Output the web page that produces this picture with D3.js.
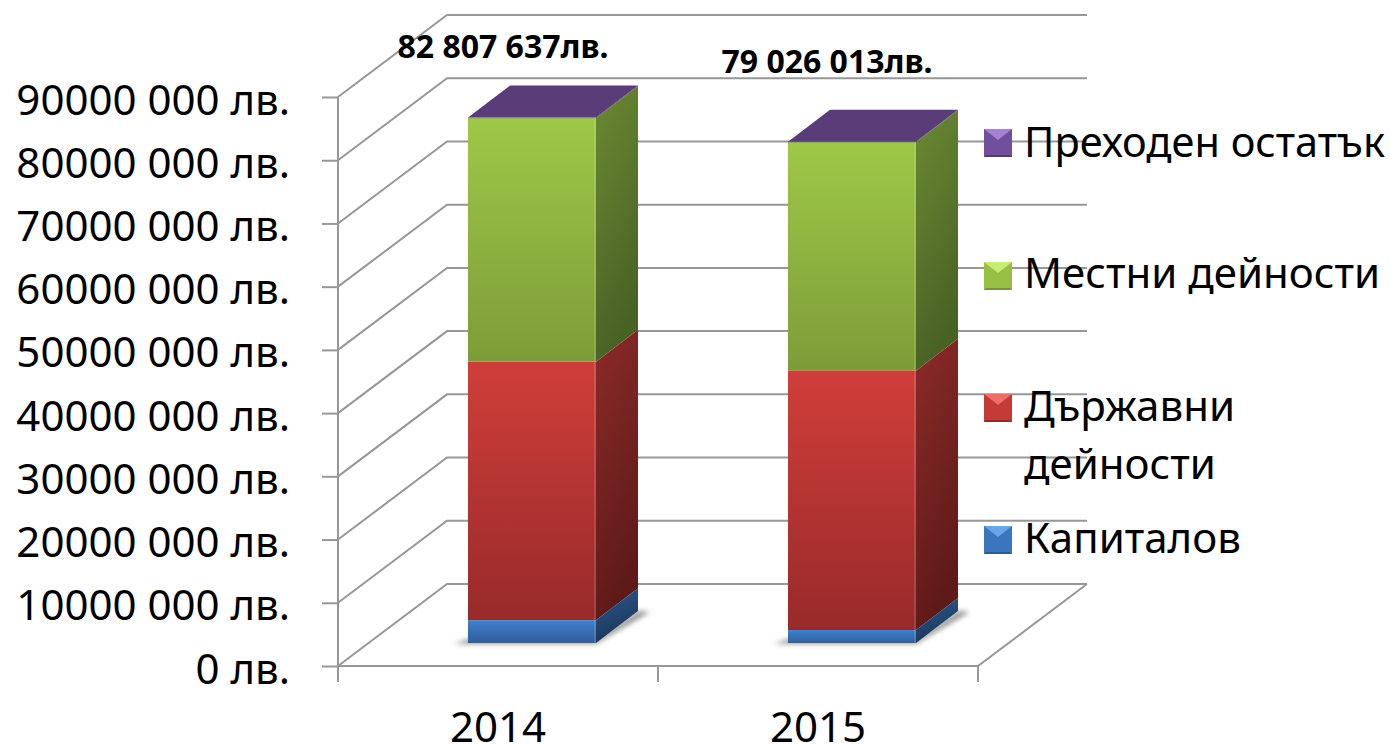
<!DOCTYPE html>
<html>
<head>
<meta charset="utf-8">
<script src="https://d3js.org/d3.v7.min.js"></script>
<style>
html, body { margin: 0; padding: 0; background: #fff; overflow: hidden; }
text { font-family: "Noto Sans", sans-serif; fill: #000; }
</style>
</head>
<body>
<script>
var years = ["2014", "2015"];
var capital = [3600000, 2050000];
var stateActivities = [40900000, 41000000];
var localActivities = [38500000, 36150000];
var carryOver = [100000, 100000];
var totals = ["82 807 637лв.", "79 026 013лв."];
var yTicks = [0, 10000000, 20000000, 30000000, 40000000, 50000000, 60000000, 70000000, 80000000, 90000000];
var yTickLabels = ["0 лв.", "10000 000 лв.", "20000 000 лв.", "30000 000 лв.", "40000 000 лв.", "50000 000 лв.", "60000 000 лв.", "70000 000 лв.", "80000 000 лв.", "90000 000 лв."];

var seriesValues = [capital, stateActivities, localActivities, carryOver];

var colors = [
  {front: ["#4080cc", "#2f5e9c"], side: ["#2a5a92", "#1c3658"], top: "#2a5a92", sw: ["#6aa5ea", "#3a75bd", "#2c5c98"]},
  {front: ["#d03e3a", "#982a2a"], side: ["#8c2b29", "#5e1a18"], top: "#8f2b29", sw: ["#ec6f6a", "#c33a36", "#952a28"]},
  {front: ["#9ec847", "#7d9c38"], side: ["#6b8a33", "#486224"], top: "#6d8f33", sw: ["#c8ec72", "#97bf43", "#75953a"]},
  {front: ["#7850a4", "#5c3d7c"], side: ["#5a3d78", "#4a3064"], top: "#5a3d78", sw: ["#a583d2", "#70509c", "#553a76"]}
];

var width = 1390, height = 745;
var wallDx = 109, wallDy = -82;       // floor depth
var barDx = 42, barDy = -32;          // bar depth
var barOffX = 34, barOffY = -23;      // bar sits inside the floor
var fontSize = 42;
var totalNudge = [[5, -83], [9, -92]];

var svg = d3.select("body").append("svg")
  .attr("width", width)
  .attr("height", height);

var x = d3.scaleBand().domain(years).range([338, 978]).paddingInner(0.6).paddingOuter(0.3);
var y = d3.scaleLinear().domain([0, 90000000]).range([666, 97]);

var defs = svg.append("defs");

function gradient(id, c, x2) {
  var g = defs.append("linearGradient").attr("id", id)
    .attr("x1", 0).attr("y1", 0).attr("x2", x2).attr("y2", 1);
  g.append("stop").attr("offset", "0%").attr("stop-color", c[0]);
  g.append("stop").attr("offset", "100%").attr("stop-color", c[1]);
}
colors.forEach(function(c, i) {
  gradient("front" + i, c.front, 0);
  gradient("side" + i, c.side, 0.3);
});
defs.append("filter").attr("id", "blur")
  .attr("x", "-20%").attr("y", "-50%").attr("width", "140%").attr("height", "200%")
  .append("feGaussianBlur").attr("stdDeviation", 2.5);

// walls and floor
var grid = svg.append("g").attr("stroke", "#979797").attr("stroke-width", 2).attr("fill", "none");
yTicks.forEach(function(t) {
  grid.append("path").attr("d", d3.line()([
    [x.range()[0], y(t)],
    [x.range()[0] + wallDx, y(t) + wallDy],
    [x.range()[1] + wallDx, y(t) + wallDy]
  ]));
});
grid.append("path").attr("d", d3.line()([
  [x.range()[0], y(0)],
  [x.range()[1], y(0)],
  [x.range()[1] + wallDx, y(0) + wallDy]
]));
[0, 1, 2].forEach(function(i) {
  var px = x.range()[0] + i * x.step();
  grid.append("line").attr("x1", px).attr("x2", px).attr("y1", y(0)).attr("y2", y(0) + 16);
});

// y axis
var yAxis = d3.axisLeft(y).tickValues(yTicks).tickSize(16).tickPadding(32)
  .tickFormat(function(d, i) { return yTickLabels[i]; });
var yG = svg.append("g").attr("transform", "translate(338,0)").call(yAxis);
yG.select(".domain").remove();
yG.append("line").attr("y1", y(90000000)).attr("y2", y(0)).attr("stroke", "#979797").attr("stroke-width", 2);
yG.selectAll(".tick line").attr("stroke", "#979797").attr("stroke-width", 2);
yG.selectAll(".tick text").attr("font-size", fontSize).attr("dy", 17).attr("font-family", null).attr("fill", "#000");

// bars
var stacked = years.map(function(yr, i) {
  var base = 0;
  return seriesValues.map(function(s, k) {
    var seg = {year: yr, k: k, y0: base, y1: base + s[i]};
    base = seg.y1;
    return seg;
  });
});

var bars = svg.selectAll(".bar").data(stacked).enter().append("g").attr("class", "bar");

bars.append("path")
  .attr("filter", "url(#blur)")
  .attr("fill", "#9a9a9a")
  .attr("d", function(d) {
    var l = x(d[0].year) + barOffX, b = y(0) + barOffY, r = l + x.bandwidth();
    return d3.line()([[l - 14, b + 1], [r, b + 1], [r + barDx + 12, b + barDy + 1], [r + barDx, b + barDy], [r, b - 4], [l, b - 4]]);
  });

bars.each(function(d) {
  var g = d3.select(this);
  d.forEach(function(s) {
    var l = x(s.year) + barOffX, r = l + x.bandwidth();
    var yb = y(s.y0) + barOffY, yt = y(s.y1) + barOffY;
    g.append("path").attr("fill", "url(#side" + s.k + ")")
      .attr("d", d3.line()([[r, yb], [r + barDx, yb + barDy], [r + barDx, yt + barDy], [r, yt]]) + "Z");
    g.append("rect").attr("x", l).attr("y", yt).attr("width", x.bandwidth()).attr("height", yb - yt)
      .attr("fill", "url(#front" + s.k + ")");
    // soft lit edge where the front meets the side
    g.append("line").attr("x1", r - 1).attr("x2", r - 1).attr("y1", yt).attr("y2", yb)
      .attr("stroke", "#fff").attr("stroke-opacity", 0.12).attr("stroke-width", 2);
  });
  var last = d[d.length - 1];
  var l = x(last.year) + barOffX, r = l + x.bandwidth(), t = y(last.y1) + barOffY;
  g.append("path").attr("fill", colors[last.k].top)
    .attr("d", d3.line()([[l, t], [l + barDx, t + barDy], [r + barDx, t + barDy], [r, t]]) + "Z");
});

// totals above the bars
svg.selectAll(".total").data(years).enter().append("text")
  .attr("class", "total")
  .attr("x", function(d, i) { return x(d) + x.bandwidth() / 2 + totalNudge[i][0]; })
  .attr("y", function(d, i) { return y(d3.sum(seriesValues, function(s) { return s[i]; })) + totalNudge[i][1]; })
  .attr("text-anchor", "middle")
  .attr("font-size", 32)
  .attr("font-weight", "bold")
  .text(function(d, i) { return totals[i]; });

// category labels
svg.selectAll(".cat").data(years).enter().append("text")
  .attr("class", "cat")
  .attr("x", function(d) { return x(d) + x.bandwidth() / 2; })
  .attr("y", 742)
  .attr("text-anchor", "middle")
  .attr("font-size", fontSize)
  .text(function(d) { return d; });

// legend
var legendItems = [
  {k: 3, top: 129, lines: ["Преходен остатък"], base: [157], len: 361},
  {k: 2, top: 262, lines: ["Местни дейности"], base: [288]},
  {k: 1, top: 394, lines: ["Държавни", "дейности"], base: [421, 479]},
  {k: 0, top: 526, lines: ["Капиталов"], base: [553]}
];
var swX = 984, swS = 28, bev = 11;
legendItems.forEach(function(it) {
  var c = colors[it.k].sw, g = svg.append("g").attr("transform", "translate(" + swX + "," + it.top + ")");
  g.append("rect").attr("width", swS).attr("height", swS).attr("fill", c[1]);
  g.append("path").attr("fill", c[0]).attr("d", d3.line()([[0, 0], [swS, 0], [swS / 2, bev]]) + "Z");
  g.append("path").attr("fill", c[2]).attr("d", d3.line()([[0, swS], [swS, swS], [swS - 2, swS - 2], [2, swS - 2]]) + "Z");
  it.lines.forEach(function(t, i) {
    var label = g.append("text").attr("x", 1024 - swX).attr("y", it.base[i] - it.top)
      .attr("font-size", fontSize).text(t);
    if (it.len) label.attr("textLength", it.len).attr("lengthAdjust", "spacingAndGlyphs");
  });
});
</script>
</body>
</html>
